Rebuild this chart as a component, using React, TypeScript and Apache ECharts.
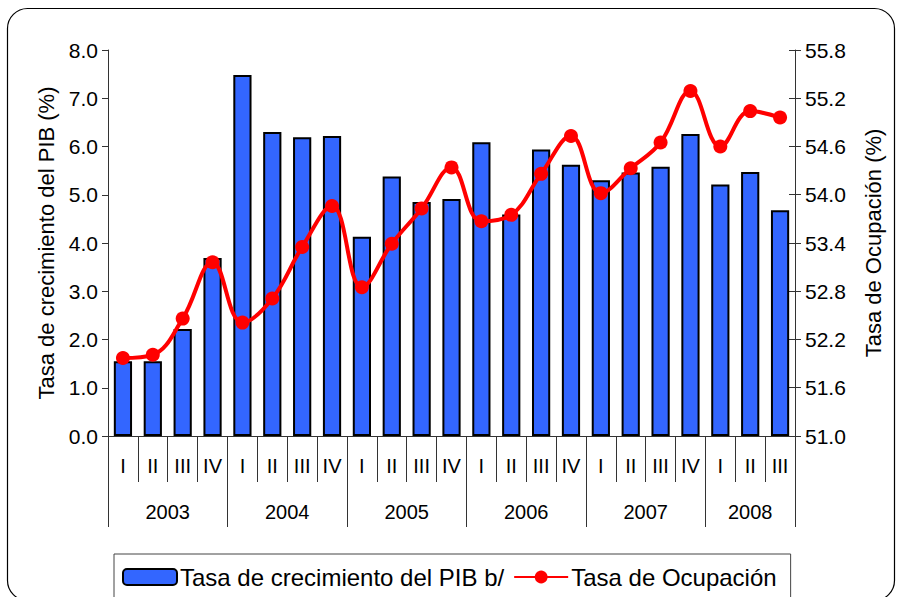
import React, { useEffect, useRef } from "react";
import * as echarts from "echarts";

const quarters = ["I", "II", "III", "IV", "I", "II", "III", "IV", "I", "II", "III", "IV", "I", "II", "III", "IV", "I", "II", "III", "IV", "I", "II", "III"];
const years = ["2003", "2004", "2005", "2006", "2007", "2008"];
const quartersPerYear = [4, 4, 4, 4, 4, 3];
const pibGrowth = [1.55, 1.55, 2.22, 3.69, 7.48, 6.3, 6.19, 6.22, 4.13, 5.38, 4.85, 4.91, 6.09, 4.59, 5.94, 5.62, 5.3, 5.46, 5.58, 6.26, 5.21, 5.47, 4.68];
const occupation = [51.97, 52.01, 52.46, 53.16, 52.41, 52.71, 53.35, 53.86, 52.85, 53.39, 53.83, 54.34, 53.67, 53.75, 54.26, 54.73, 54.02, 54.33, 54.65, 55.29, 54.6, 55.04, 54.96];
const leftTicks = { min: 0, max: 8, interval: 1 };
const rightTicks = { min: 51, max: 55.8, interval: 0.6 };
const barName = "Tasa de crecimiento del PIB b/";
const lineName = "Tasa de Ocupación";
const leftTitle = "Tasa de crecimiento del PIB (%)";
const rightTitle = "Tasa de Ocupación (%)";

const FONT = "'Liberation Sans', Arial, Helvetica, sans-serif";
const AXIS_COLOR = "#333";

export default function App() {
  const ref = useRef<HTMLDivElement>(null);
  useEffect(() => {
    if (!ref.current) return;
    const chart = echarts.init(ref.current, undefined, { renderer: "svg" });
    const boundaries: number[] = [0];
    const mids: number[] = [];
    quartersPerYear.forEach((n) => {
      const start = boundaries[boundaries.length - 1];
      mids.push(start + n / 2);
      boundaries.push(start + n);
    });
    const total = boundaries[boundaries.length - 1];
    const axisLine = { show: true, lineStyle: { color: AXIS_COLOR, width: 1 } };
    chart.setOption({
      animation: false,
      backgroundColor: "#fff",
      textStyle: { fontFamily: FONT, color: "#000" },
      grid: { left: 108, right: 102, top: 50, bottom: 161, containLabel: false },
      graphic: [
        {
          type: "rect",
          shape: { x: 7.5, y: 8.5, width: 887, height: 592, r: 20 },
          style: { fill: "none", stroke: "#000", lineWidth: 1.2 },
          silent: true,
        },
      ],
      legend: {
        left: 114,
        top: 554,
        padding: [11, 14, 11, 8],
        itemGap: 9,
        itemWidth: 54,
        itemHeight: 16,
        borderColor: "#444",
        borderWidth: 1,
        textStyle: { fontFamily: FONT, fontSize: 24, color: "#000", padding: [0, 0, 0, -2] },
        data: [barName, lineName],
      },
      xAxis: [
        {
          type: "category",
          data: quarters,
          position: "bottom",
          axisLine,
          axisTick: { show: true, interval: 0, length: 46, lineStyle: { color: AXIS_COLOR } },
          axisLabel: { interval: 0, margin: 20, fontSize: 20, color: "#000", fontFamily: FONT },
          splitLine: { show: false },
        },
        {
          type: "value",
          min: 0,
          max: total,
          position: "bottom",
          axisLine: { show: false },
          splitLine: { show: false },
          axisTick: { show: true, length: 91, customValues: boundaries, lineStyle: { color: AXIS_COLOR } },
          axisLabel: {
            show: true,
            customValues: mids,
            margin: 66,
            fontSize: 20,
            color: "#000",
            fontFamily: FONT,
            formatter: (v: number) => {
              const i = mids.findIndex((m) => Math.abs(m - v) < 1e-6);
              return i >= 0 ? years[i] : "";
            },
          },
        },
      ],
      yAxis: [
        {
          type: "value",
          position: "left",
          min: leftTicks.min,
          max: leftTicks.max,
          interval: leftTicks.interval,
          axisLine,
          axisTick: { show: true, length: 6, lineStyle: { color: AXIS_COLOR } },
          axisLabel: { fontSize: 21, margin: 10, color: "#000", fontFamily: FONT, formatter: (v: number) => v.toFixed(1) },
          splitLine: { show: false },
          name: leftTitle,
          nameLocation: "middle",
          nameGap: 51,
          nameRotate: 90,
          nameTextStyle: { fontSize: 22, color: "#000", fontFamily: FONT },
        },
        {
          type: "value",
          position: "right",
          min: rightTicks.min,
          max: rightTicks.max,
          interval: rightTicks.interval,
          axisLine,
          axisTick: { show: true, length: 6, lineStyle: { color: AXIS_COLOR } },
          axisLabel: { fontSize: 21, margin: 10, color: "#000", fontFamily: FONT, formatter: (v: number) => v.toFixed(1) },
          splitLine: { show: false },
          name: rightTitle,
          nameLocation: "middle",
          nameGap: 67,
          nameRotate: 90,
          nameTextStyle: { fontSize: 22, color: "#000", fontFamily: FONT },
        },
        {
          type: "value",
          position: "right",
          min: rightTicks.min,
          max: rightTicks.max,
          interval: rightTicks.interval,
          axisLine: { show: false },
          axisTick: { show: true, inside: true, length: 6, lineStyle: { color: AXIS_COLOR } },
          axisLabel: { show: false },
          splitLine: { show: false },
        },
      ],
      series: [
        {
          name: barName,
          type: "bar",
          xAxisIndex: 0,
          yAxisIndex: 0,
          data: pibGrowth,
          barWidth: "61%",
          itemStyle: { color: "#3366FF", borderColor: "#000", borderWidth: 2 },
        },
        {
          name: lineName,
          type: "line",
          xAxisIndex: 0,
          yAxisIndex: 1,
          data: occupation,
          smooth: 0.4,
          symbol: "circle",
          symbolSize: 14,
          lineStyle: { color: "#FF0000", width: 4 },
          itemStyle: { color: "#FF0000" },
          z: 5,
        },
      ],
    });
    return () => chart.dispose();
  }, []);
  return <div ref={ref} style={{ position: "fixed", left: 0, top: 0, width: 897, height: 597, background: "#fff" }} />;
}
